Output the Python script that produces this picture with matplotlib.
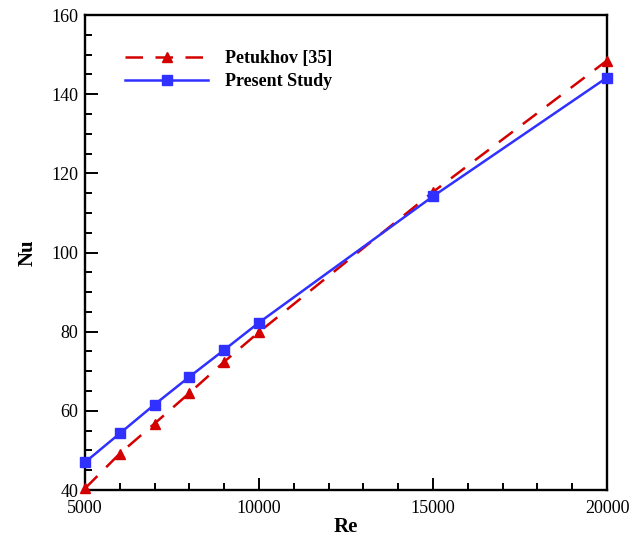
"""Nu vs Re: Petukhov correlation compared with the present study."""

import matplotlib

matplotlib.use("Agg")
import matplotlib.pyplot as plt
from matplotlib.ticker import MultipleLocator

re_values = [5000, 6000, 7000, 8000, 9000, 10000, 15000, 20000]
nu_petukhov = [40.4, 49.2, 56.8, 64.5, 72.4, 79.9, 115.3, 148.5]
nu_present = [47.0, 54.3, 61.6, 68.6, 75.4, 82.3, 114.2, 144.2]

x_ticks = [5000, 10000, 15000, 20000]
y_ticks = [40, 60, 80, 100, 120, 140, 160]

plt.rcParams["font.family"] = ["Liberation Serif", "DejaVu Serif"]

fig = plt.figure(figsize=(6.42, 5.36), dpi=100)
ax = fig.add_axes([0.1324, 0.0858, 0.8131, 0.8862])

# Reference correlation: dashed red with triangles
ax.plot(
    re_values,
    nu_petukhov,
    color="#d40000",
    linestyle=(0, (7, 5)),
    linewidth=1.8,
    marker="^",
    markersize=7.5,
    label="Petukhov [35]",
    clip_on=False,
    zorder=3,
)

# Present results: solid blue with squares
ax.plot(
    re_values,
    nu_present,
    color="#3030ff",
    linestyle="-",
    linewidth=1.8,
    marker="s",
    markersize=7.5,
    label="Present Study",
    clip_on=False,
    zorder=4,
)

ax.set_xlim(5000, 20000)
ax.set_ylim(40, 160)
ax.set_xticks(x_ticks)
ax.set_yticks(y_ticks)
ax.xaxis.set_minor_locator(MultipleLocator(1000))
ax.yaxis.set_minor_locator(MultipleLocator(5))

ax.tick_params(which="both", direction="in", top=False, right=False, labelsize=13, width=1.4)
ax.tick_params(which="major", length=9)
ax.tick_params(which="minor", length=5)
ax.tick_params(axis="x", which="major", pad=7)
ax.tick_params(axis="y", which="major", pad=5)

for spine in ax.spines.values():
    spine.set_linewidth(1.7)

ax.set_xlabel("Re", fontsize=15, fontweight="bold", labelpad=0)
ax.set_ylabel("Nu", fontsize=15, fontweight="bold", labelpad=10)

ax.legend(
    loc="upper left",
    bbox_to_anchor=(0.046, 0.96),
    frameon=False,
    handlelength=4.6,
    handletextpad=0.9,
    labelspacing=0.33,
    prop={"size": 13, "weight": "bold"},
)

fig.savefig("out.png", dpi=100)
